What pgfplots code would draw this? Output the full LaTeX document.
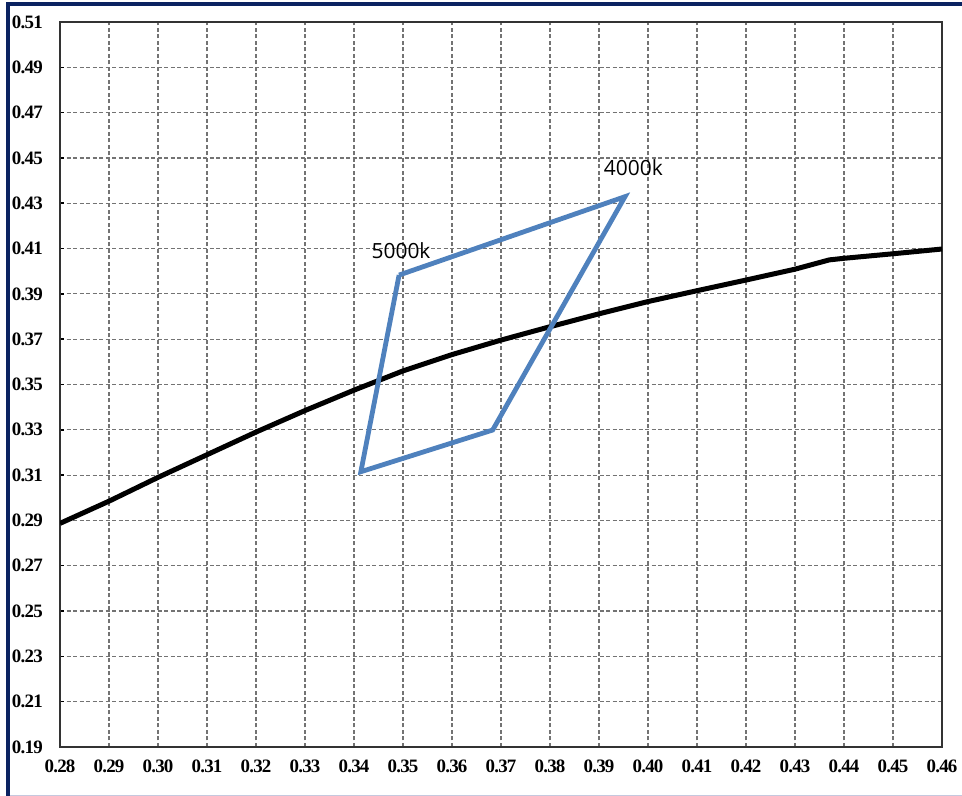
\documentclass[border=0pt]{standalone}
\usepackage{pgfplots}
\pgfplotsset{compat=1.18}
\usepackage{fontspec}
\setmainfont{Liberation Serif}
\newfontfamily\tickfont[LetterSpace=-4]{Liberation Serif}
\newfontfamily\labelfont{Open Sans}

\definecolor{boxblue}{HTML}{4F81BD}
\definecolor{framenavy}{HTML}{0B2361}
\definecolor{framelight}{HTML}{C5C8DE}

\begin{document}
\begin{tikzpicture}
% page = 962 x 796 bp, axis box 882 x 725 bp
\useasboundingbox (-60bp,-49bp) rectangle (902bp,747bp);
\draw[framenavy, line width=4bp] (-52bp,-49bp) -- (-52bp,743bp) -- (902bp,743bp);
\draw[framelight, line width=1bp] (-50bp,-48.5bp) -- (902bp,-48.5bp);

\begin{axis}[
    scale only axis,
    width=882bp, height=725bp,
    at={(0,0)}, anchor=south west,
    xmin=0.28, xmax=0.46,
    ymin=0.19, ymax=0.51,
    xtick={0.28,0.29,0.30,0.31,0.32,0.33,0.34,0.35,0.36,0.37,0.38,0.39,0.40,0.41,0.42,0.43,0.44,0.45,0.46},
    ytick={0.19,0.21,0.23,0.25,0.27,0.29,0.31,0.33,0.35,0.37,0.39,0.41,0.43,0.45,0.47,0.49,0.51},
    grid=major,
    major grid style={black!55, line width=1.2bp, dash pattern=on 4bp off 2.5bp},
    axis line style={black!80, line width=2bp},
    tick align=inside,
    ytick pos=left,
    x tick style={draw=none},
    y tick style={black, line width=1.5bp},
    major tick length=4bp,
    xticklabel style={font=\tickfont\fontsize{19}{19}\selectfont\bfseries, anchor=north, inner sep=0pt, yshift=-13bp},
    yticklabel style={font=\tickfont\fontsize{19}{19}\selectfont\bfseries, anchor=east, inner sep=0pt, xshift=-17bp},
    /pgf/number format/.cd, fixed, fixed zerofill, precision=2, assume math mode=true,
]
% Planckian locus
\addplot[black, line width=5bp, line join=round] coordinates {
    (0.280, 0.2887)
    (0.290, 0.2985)
    (0.300, 0.3090)
    (0.310, 0.3190)
    (0.320, 0.3290)
    (0.330, 0.3385)
    (0.340, 0.3475)
    (0.350, 0.3560)
    (0.360, 0.3632)
    (0.370, 0.3696)
    (0.380, 0.3755)
    (0.390, 0.3812)
    (0.400, 0.3866)
    (0.410, 0.3914)
    (0.420, 0.3961)
    (0.430, 0.4009)
    (0.437, 0.4050)
    (0.440, 0.4057)
    (0.450, 0.4077)
    (0.460, 0.4098)
};
% 4000k-5000k quadrangle
\addplot[boxblue, line width=4.8bp, line join=miter] coordinates {
    (0.3492, 0.3983)
    (0.3953, 0.4329)
    (0.3683, 0.3299)
    (0.3414, 0.3115)
    (0.3492, 0.3983)
};
\node[font=\labelfont\fontsize{21}{21}\selectfont] at (axis cs:0.3496,0.4089) {5000k};
\node[font=\labelfont\fontsize{21}{21}\selectfont] at (axis cs:0.3970,0.4458) {4000k};
\end{axis}
\end{tikzpicture}
\end{document}
